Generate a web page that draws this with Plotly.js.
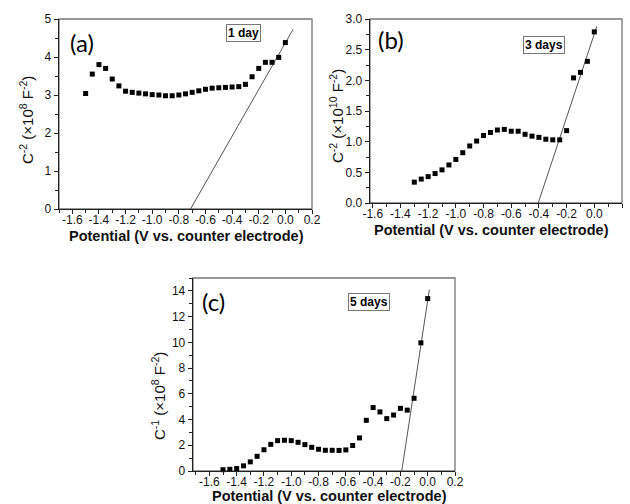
<!DOCTYPE html>
<html>
<head>
<meta charset="utf-8">
<script src="https://cdn.plot.ly/plotly-3.0.1.min.js"></script>
<style>html,body{margin:0;padding:0;background:#fff}#chart{width:630px;height:504px}</style>
</head>
<body>
<div id="chart"></div>
<script>
// ---- data ----
var xA = [-1.5,-1.45,-1.4,-1.35,-1.3,-1.25,-1.2,-1.15,-1.1,-1.05,-1.0,-0.95,-0.9,-0.85,-0.8,-0.75,-0.7,-0.65,-0.6,-0.55,-0.5,-0.45,-0.4,-0.35,-0.3,-0.25,-0.2,-0.15,-0.1,-0.05,0.0];
var yA = [3.04,3.55,3.80,3.70,3.42,3.24,3.10,3.07,3.05,3.03,3.01,3.00,2.98,2.98,3.00,3.03,3.07,3.11,3.15,3.18,3.19,3.20,3.21,3.22,3.28,3.48,3.70,3.86,3.86,3.99,4.38];
var fitAx = [-0.712, 0.058];
var fitAy = [0, 4.73];

var xB = [-1.3,-1.25,-1.2,-1.15,-1.1,-1.05,-1.0,-0.95,-0.9,-0.85,-0.8,-0.75,-0.7,-0.65,-0.6,-0.55,-0.5,-0.45,-0.4,-0.35,-0.3,-0.25,-0.2,-0.15,-0.1,-0.05,0.0];
var yB = [0.34,0.39,0.43,0.48,0.54,0.62,0.71,0.82,0.93,1.01,1.10,1.15,1.19,1.20,1.17,1.17,1.12,1.09,1.07,1.04,1.03,1.03,1.18,2.04,2.13,2.31,2.79];
var fitBx = [-0.405, 0.018];
var fitBy = [0, 2.88];

var xC = [-1.5,-1.45,-1.4,-1.35,-1.3,-1.25,-1.2,-1.15,-1.1,-1.05,-1.0,-0.95,-0.9,-0.85,-0.8,-0.75,-0.7,-0.65,-0.6,-0.55,-0.5,-0.45,-0.4,-0.35,-0.3,-0.25,-0.2,-0.15,-0.1,-0.05,0.0];
var yC = [0.10,0.13,0.19,0.40,0.71,1.14,1.65,2.07,2.36,2.39,2.36,2.23,2.05,1.84,1.69,1.61,1.61,1.60,1.64,1.98,2.57,3.94,4.93,4.59,4.07,4.35,4.87,4.73,5.65,9.96,13.40];
var fitCx = [-0.19, 0.012];
var fitCy = [0, 14.1];

var xTickVals = [-1.6,-1.4,-1.2,-1.0,-0.8,-0.6,-0.4,-0.2,0.0,0.2];
var xTickText = ["-1.6","-1.4","-1.2","-1.0","-0.8","-0.6","-0.4","-0.2","0.0","0.2"];
var yTickValsA = [0,1,2,3,4,5];
var yTickTextA = ["0","1","2","3","4","5"];
var yTickValsB = [0,0.5,1.0,1.5,2.0,2.5,3.0];
var yTickTextB = ["0.0","0.5","1.0","1.5","2.0","2.5","3.0"];
var yTickValsC = [0,2,4,6,8,10,12,14];
var yTickTextC = ["0","2","4","6","8","10","12","14"];

var panelLabels = ["(a)","(b)","(c)"];
var dayLabels = ["1 day","3 days","5 days"];
var xTitle = "Potential (V vs. counter electrode)";
var yTitles = ["C<sup>-2</sup> (×10<sup>8</sup> F<sup>-2</sup>)",
               "C<sup>-2</sup> (×10<sup>10</sup> F<sup>-2</sup>)",
               "C<sup>-1</sup> (×10<sup>8</sup> F<sup>-2</sup>)"];

// ---- traces ----
function pts(x,y,xa,ya){return {x:x,y:y,xaxis:xa,yaxis:ya,type:'scatter',mode:'markers',
  marker:{symbol:'square',size:5,color:'#000'},hoverinfo:'skip',showlegend:false,cliponaxis:false};}
function fit(x,y,xa,ya){return {x:x,y:y,xaxis:xa,yaxis:ya,type:'scatter',mode:'lines',
  line:{color:'#555',width:1},hoverinfo:'skip',showlegend:false};}

var data = [
  fit(fitAx,fitAy,'x','y'), pts(xA,yA,'x','y'),
  fit(fitBx,fitBy,'x2','y2'), pts(xB,yB,'x2','y2'),
  fit(fitCx,fitCy,'x3','y3'), pts(xC,yC,'x3','y3')
];

var tickFont = {family:'Liberation Sans, Arial, sans-serif', size:12, color:'#111'};
function xax(dom, range){return {domain:dom, range:range, tickvals:xTickVals, ticktext:xTickText,
  ticks:'outside', ticklen:4, tickwidth:1, tickcolor:'#222', showline:true, linecolor:'#222', linewidth:1.3,
  showgrid:false, zeroline:false, tickfont:tickFont, fixedrange:true, ticklabelstandoff:-5,
  minor:{dtick:0.1, tick0:0, ticks:'outside', ticklen:2.5, tickcolor:'#222', showgrid:false}};}
function yax(dom, range, tv, tt, mdt, anchor){return {domain:dom, range:range, tickvals:tv, ticktext:tt, anchor:anchor,
  ticks:'outside', ticklen:4, tickwidth:1, tickcolor:'#222', showline:true, linecolor:'#222', linewidth:1.3,
  showgrid:false, zeroline:false, tickfont:tickFont, fixedrange:true,
  minor:{dtick:mdt, tick0:0, ticks:'outside', ticklen:2.5, tickcolor:'#222', showgrid:false}};}

var W=630,H=504;
function px(v){return v/W;} function py(v){return 1-v/H;}

var layout = {
  width:W, height:H, margin:{l:0,r:0,t:0,b:0}, paper_bgcolor:'#fff', plot_bgcolor:'rgba(0,0,0,0)',
  showlegend:false,
  xaxis: Object.assign(xax([px(59),px(312)],[-1.7,0.2]),{anchor:'y'}),
  yaxis: yax([py(209),py(19)],[0,5],yTickValsA,yTickTextA,0.5,'x'),
  xaxis2: Object.assign(xax([px(370),px(622)],[-1.62,0.2]),{anchor:'y2'}),
  yaxis2: yax([py(203),py(19)],[0,3],yTickValsB,yTickTextB,0.25,'x2'),
  xaxis3: Object.assign(xax([px(193),px(455)],[-1.72,0.2]),{anchor:'y3'}),
  yaxis3: yax([py(471),py(278)],[0,15],yTickValsC,yTickTextC,1,'x3'),
  shapes: [['x','y'],['x2','y2'],['x3','y3']].map(function(r){return {type:'rect',xref:r[0]+' domain',yref:r[1]+' domain',
    x0:0,x1:1,y0:0,y1:1,line:{color:'#777',width:1.3},layer:'below'};}),
  annotations: []
};

var titleFont = {family:'Liberation Sans, Arial, sans-serif', size:14.5, color:'#111', weight:'bold'};
var yFont = {family:'Liberation Sans, Arial, sans-serif', size:15, color:'#111'};
var labFont = {family:'Lato, Carlito, sans-serif', size:24, color:'#000'};
var dayFont = {family:'Liberation Sans, Arial, sans-serif', size:12, color:'#000', weight:'bold'};
// x titles
[[186,236],[491,230],[329,496]].forEach(function(p){
  layout.annotations.push({text:'<b>'+xTitle+'</b>', xref:'paper', yref:'paper', x:px(p[0]), y:py(p[1]),
    xanchor:'center', yanchor:'middle', showarrow:false, font:titleFont});
});
// y titles
[[26,120],[337,116],[158,396]].forEach(function(p,i){
  layout.annotations.push({text:yTitles[i], xref:'paper', yref:'paper', x:px(p[0]), y:py(p[1]),
    xanchor:'center', yanchor:'middle', textangle:-90, showarrow:false, font:yFont});
});
// panel labels
[[82,42],[391,40],[213,301]].forEach(function(p,i){
  layout.annotations.push({text:panelLabels[i], xref:'paper', yref:'paper', x:px(p[0]), y:py(p[1]),
    xanchor:'center', yanchor:'middle', showarrow:false, font:labFont});
});
// day boxes
[[243,33],[544,45],[369,302]].forEach(function(p,i){
  layout.annotations.push({text:'<b>'+dayLabels[i]+'</b>', xref:'paper', yref:'paper', x:px(p[0]), y:py(p[1]),
    xanchor:'center', yanchor:'middle', showarrow:false, font:dayFont,
    bordercolor:'#777', borderwidth:1, borderpad:1, bgcolor:'#fff'});
});

Plotly.newPlot('chart', data, layout, {staticPlot:true, displayModeBar:false});
</script>
</body>
</html>
